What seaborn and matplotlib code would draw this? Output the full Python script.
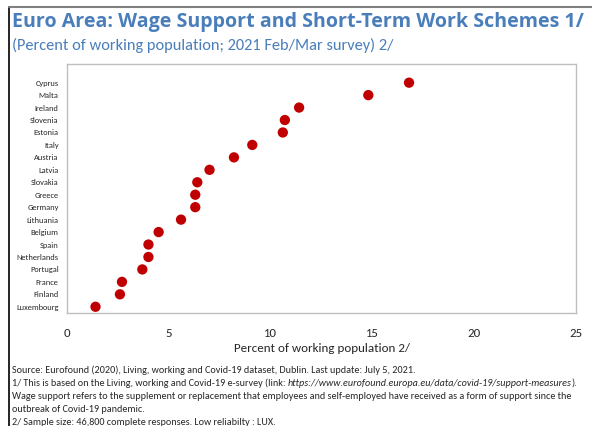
"""
Euro Area: wage support and short-term work schemes (dot chart).
"""

import matplotlib
matplotlib.use("Agg")
import matplotlib.pyplot as plt
import seaborn as sns
import pandas as pd
import numpy as np
from matplotlib.lines import Line2D

# Данные (сверху вниз, как на графике)
countries = ["Cyprus", "Malta", "Ireland", "Slovenia", "Estonia", "Italy",
             "Austria", "Latvia", "Slovakia", "Greece", "Germany", "Lithuania",
             "Belgium", "Spain", "Netherlands", "Portugal", "France", "Finland",
             "Luxembourg"]
values = [16.8, 14.8, 11.4, 10.7, 10.6, 9.1, 8.2, 7.0, 6.4, 6.3, 6.3, 5.6,
          4.5, 4.0, 4.0, 3.7, 2.7, 2.6, 1.4]
x_ticks = [0, 5, 10, 15, 20, 25]

title = "Euro Area: Wage Support and Short-Term Work Schemes 1/"
subtitle = "(Percent of working population; 2021 Feb/Mar survey) 2/"
x_label = "Percent of working population 2/"
note_source = "Source: Eurofound (2020), Living, working and Covid-19 dataset, Dublin. Last update: July 5, 2021."
note_1 = ["1/ This is based on the Living, working and Covid-19 e-survey (link: ",
          "https://www.eurofound.europa.eu/data/covid-19/support-measures",
          ")."]
note_wage = ["Wage support refers to the supplement or replacement that employees and self-employed have received as a form of support since the",
             "outbreak of Covid-19 pandemic."]
note_2 = "2/ Sample size: 46,800 complete responses. Low reliabilty : LUX."

sns.set_theme(style="white")
plt.rcParams['font.family'] = ['Carlito', 'DejaVu Sans']

df = pd.DataFrame({"country": countries, "value": values})
# позиция по оси y: Люксембург снизу (0.5), Кипр сверху
df["pos"] = np.arange(len(df))[::-1] + 0.5

fig = plt.figure(figsize=(5.92, 4.26), dpi=100)
ax = fig.add_axes([67 / 592, 1 - 313 / 426, (576 - 67) / 592, (313 - 64) / 426])

sns.scatterplot(data=df, x="value", y="pos", ax=ax, color="#C00000",
                s=55, edgecolor="none", legend=False, zorder=3)

ax.set_xlim(0, 25)
ax.set_ylim(0, 20)
ax.set_xticks(x_ticks)
ax.set_xticklabels([str(t) for t in x_ticks], fontsize=9.2)
ax.set_yticks(df["pos"])
ax.set_yticklabels(df["country"], fontsize=6.0)
ax.tick_params(axis="x", direction="in", length=3, color="#BFBFBF", pad=11)
ax.tick_params(axis="y", length=0, pad=6)
ax.set_xlabel(x_label, fontsize=9.4, labelpad=3)
ax.set_ylabel("")
for sp in ax.spines.values():
    sp.set_color("#BFBFBF")
    sp.set_linewidth(1.0)

r = fig.canvas.get_renderer()
W = fig.bbox.width


def fit(t, width_px):
    # подгоняем размер шрифта под ширину строки на картинке
    w = t.get_window_extent(r).width
    t.set_fontsize(t.get_fontsize() * width_px / w)


# Заголовки
t_title = fig.text(12 / W, 1 - 27 / 426, title, fontsize=14, fontweight="bold",
                   family=["Open Sans", "DejaVu Sans"], color="#4A7EBB", va="baseline")
fit(t_title, 576)
t_sub = fig.text(12 / W, 1 - 50 / 426, subtitle, fontsize=11, color="#4A7EBB",
                 va="baseline")
fit(t_sub, 381)

# Примечания
t_wage = fig.text(12 / W, 0, note_wage[0], fontsize=7, va="baseline")
fit(t_wage, 561)
fs = t_wage.get_fontsize()
step = 12.9
y0 = 373


def ypos(i):
    return 1 - (y0 + i * step) / 426


t_wage.set_y(ypos(2))
fig.text(12 / W, ypos(0), note_source, fontsize=fs, va="baseline")
t_a = fig.text(12 / W, ypos(1), note_1[0], fontsize=fs, va="baseline")
x1 = t_a.get_window_extent(r).x1
t_b = fig.text(x1 / W, ypos(1), note_1[1], fontsize=fs, style="italic", va="baseline")
x2 = t_b.get_window_extent(r).x1
fig.text(x2 / W, ypos(1), note_1[2], fontsize=fs, va="baseline")
fig.text(12 / W, ypos(3), note_wage[1], fontsize=fs, va="baseline")
fig.text(12 / W, ypos(4), note_2, fontsize=fs, va="baseline")

# Рамка
fig.add_artist(Line2D([9 / W, 9 / W], [0, 1 - 7 / 426], color="black", lw=1.2))
fig.add_artist(Line2D([9 / W, 1], [1 - 7 / 426, 1 - 7 / 426], color="#808080", lw=1.5))

fig.savefig("out.png", dpi=100)
